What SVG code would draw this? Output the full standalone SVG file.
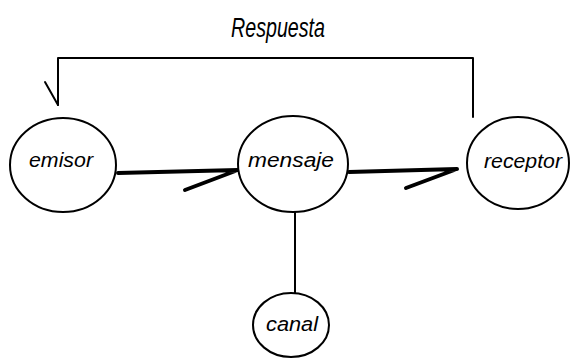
<svg xmlns="http://www.w3.org/2000/svg" width="574" height="359" viewBox="0 0 574 359">
<style>
.node{fill:#fff;stroke:#000;stroke-width:2}
.lbl{font-family:"Liberation Sans",Arial,sans-serif;font-style:italic;font-size:20px;fill:#000;text-anchor:middle}
.title{font-size:28px}
.thin{fill:none;stroke:#000;stroke-width:2;stroke-linecap:round;stroke-linejoin:round}
.thick{fill:none;stroke:#000;stroke-width:4;stroke-linecap:round;stroke-linejoin:round}
</style>
<rect width="574" height="359" fill="#fff"/>
<g id="connectors">
<polyline class="thin" points="473,117 473,58 58,58 58,105"/>
<line class="thin" x1="45" y1="82" x2="58" y2="105"/>
<polyline class="thick" points="118,173 238,170 185,190"/>
<polyline class="thick" points="349,172 457,169 406,188"/>
<line class="thin" x1="295" y1="212" x2="295" y2="293"/>
</g>
<text class="lbl title" x="278" y="37" textLength="94" lengthAdjust="spacingAndGlyphs">Respuesta</text>
<g id="emisor">
<ellipse class="node" cx="63" cy="165" rx="53" ry="47"/>
<text class="lbl" x="61" y="167" textLength="64" lengthAdjust="spacingAndGlyphs">emisor</text>
</g>
<g id="mensaje">
<ellipse class="node" cx="293" cy="164" rx="55" ry="48"/>
<text class="lbl" x="291" y="167" textLength="86" lengthAdjust="spacingAndGlyphs">mensaje</text>
</g>
<g id="receptor">
<ellipse class="node" cx="518" cy="163" rx="51" ry="46"/>
<text class="lbl" x="523" y="168" textLength="78" lengthAdjust="spacingAndGlyphs">receptor</text>
</g>
<g id="canal">
<ellipse class="node" cx="291" cy="325" rx="38" ry="32"/>
<text class="lbl" x="292" y="331" textLength="52" lengthAdjust="spacingAndGlyphs">canal</text>
</g>
</svg>
